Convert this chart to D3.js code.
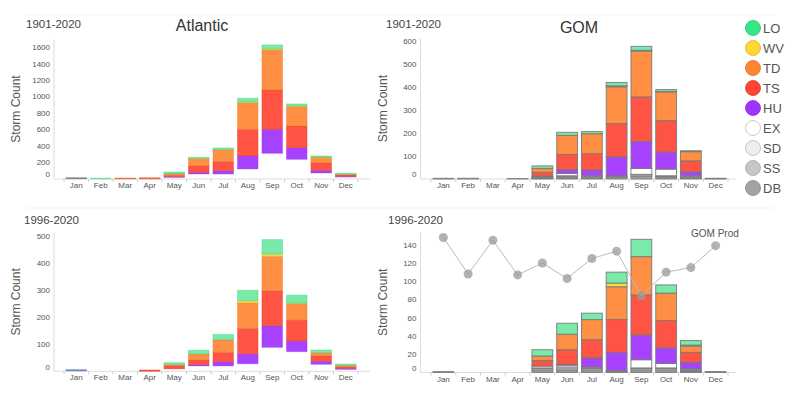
<!DOCTYPE html>
<html lang="en">
<head>
<meta charset="UTF-8">
<title>storms</title>
<script src="https://d3js.org/d3.v7.min.js"></script>
<style>
  body { margin: 0; background: #fff; }
  text { font-family: "Liberation Sans", Arial, sans-serif; fill: #555; }
</style>
</head>
<body>
<script>
// months + storm categories (stack order bottom -> top)
var months = ["Jan","Feb","Mar","Apr","May","Jun","Jul","Aug","Sep","Oct","Nov","Dec"];
var keys = ["DB","SS","SD","EX","HU","TS","TD","WV","LO"];
var legendKeys = ["LO","WV","TD","TS","HU","EX","SD","SS","DB"];
var colors = {LO:"#33e884", WV:"#ffd633", TD:"#ff8533", TS:"#ff4433", HU:"#a033ff",
              EX:"#ffffff", SD:"#eeeeee", SS:"#c6c6c6", DB:"#a3a3a3"};

// Atlantic 1901-2020, per month, in key order DB,SS,SD,EX,HU,TS,TD,WV,LO
var atl1901 = [
  [0,0,0,3,6,4,0,0,5],
  [0,0,0,0,0,0,0,0,10],
  [0,0,0,0,0,8,4,0,0],
  [0,0,0,0,0,10,6,0,0],
  [0,0,0,20,8,17,20,0,20],
  [0,0,0,61,20,77,89,4,12],
  [0,0,0,61,40,110,141,5,20],
  [0,0,0,122,157,324,324,8,45],
  [0,0,0,312,291,478,486,12,49],
  [0,0,0,239,142,263,235,6,26],
  [0,0,0,73,32,93,65,3,13],
  [0,0,0,24,8,17,8,0,12]
];
// GOM 1901-2020
var gom1901 = [
  [0,3,0,0,0,0,0,0,0],
  [3,0,0,0,0,0,0,0,0],
  [0,0,0,0,0,0,0,0,0],
  [0,2,0,0,0,0,0,0,0],
  [2,3,2,2,3,17,17,0,11],
  [5,5,4,10,16,67,83,0,13],
  [5,5,4,0,25,71,87,0,9],
  [6,5,3,0,82,145,160,4,15],
  [10,8,2,26,117,194,199,4,17],
  [6,5,3,29,74,137,125,2,8],
  [4,4,2,4,17,48,40,0,4],
  [2,0,0,0,0,1,0,0,0]
];
// Atlantic 1996-2020
var atl1996 = [
  [0,0,0,2,3,0,0,0,2],
  [0,0,0,0,0,0,0,0,0],
  [0,0,0,0,0,0,0,0,0],
  [0,0,0,0,0,5,0,0,0],
  [0,0,0,9,0,11,5,0,7],
  [0,0,0,20,5,17,22,0,14],
  [0,0,0,20,16,34,47,0,20],
  [0,0,0,28,37,94,95,8,39],
  [0,0,0,89,80,130,128,8,54],
  [0,0,0,73,39,78,61,2,30],
  [0,0,0,26,11,20,12,0,10],
  [0,0,0,7,4,6,5,0,5]
];
// GOM 1996-2020
var gom1996 = [
  [0,1,0,0,0,0,0,0,0],
  [0,0,0,0,0,0,0,0,0],
  [0,0,0,0,0,0,0,0,0],
  [0,0,0,0,0,0,0,0,0],
  [2,2,1,2,0,6,5,0,7],
  [2,2,2,2,1,16,17,0,12],
  [2,2,1,1,10,20,22,0,7],
  [1,1,0,0,20,36,36,4,12],
  [2,2,1,9,27,44,42,0,19],
  [2,2,1,5,17,30,30,0,9],
  [1,1,1,1,7,11,7,1,5],
  [0,0,0,0,0,1,0,0,0]
];
// GOM production line (1996-2020 panel)
var gomProd = [148,108,145,107,120,103,125,133,84,110,115,139];

var svg = d3.select("body").append("svg")
  .attr("width", 800).attr("height", 397);

// faint panel separators
[15, 208].forEach(function(y){
  svg.append("line").attr("x1",25).attr("x2",775).attr("y1",y).attr("y2",y)
    .attr("stroke","#f3f3f3").attr("stroke-width",1);
});

var panels = [
  {data: atl1901, max: 1700, y0: 179, y1: 39, ax: 54, xr: [64,358], xend: 370, ticks: d3.range(0,1601,200),
   period: "1901-2020", px: 26, py: 28, title: "Atlantic", tx: 202, ty: 31, gom: false},
  {data: gom1901, max: 612, y0: 179, y1: 38.3, ax: 420.5, xr: [431,728], xend: 736, ticks: d3.range(0,601,100),
   period: "1901-2020", px: 386, py: 28, title: "GOM", tx: 579, ty: 33, gom: true},
  {data: atl1996, max: 515, y0: 371.3, y1: 232.6, ax: 54, xr: [64,358], xend: 370, ticks: d3.range(0,501,100),
   period: "1996-2020", px: 24, py: 224, gom: false},
  {data: gom1996, max: 154, y0: 372.5, y1: 232, ax: 420.5, xr: [431,728], xend: 736, ticks: d3.range(0,141,20),
   period: "1996-2020", px: 388, py: 224, gom: true, prod: gomProd}
];

panels.forEach(function(p){
  var g = svg.append("g");
  var x = d3.scaleBand().domain(months).range(p.xr).paddingInner(0.16).paddingOuter(0.08);
  var y = d3.scaleLinear().domain([0, p.max]).range([p.y0, p.y1]);

  var rows = p.data.map(function(r, i){
    var o = {month: months[i]};
    keys.forEach(function(k, j){ o[k] = r[j]; });
    return o;
  });
  var series = d3.stack().keys(keys)(rows);

  // axes lines
  g.append("line").attr("x1", p.ax).attr("x2", p.ax).attr("y1", p.y1).attr("y2", p.y0)
    .attr("stroke","#ddd");
  g.append("line").attr("x1", p.ax).attr("x2", p.xend).attr("y1", p.y0).attr("y2", p.y0)
    .attr("stroke","#ddd");

  // boundary ticks between months
  d3.range(13).forEach(function(i){
    var bx = p.xr[0] + i * x.step();
    g.append("line").attr("x1", bx).attr("x2", bx).attr("y1", p.y0).attr("y2", p.y0 + 3)
      .attr("stroke","#ccc");
  });

  // bars
  series.forEach(function(s){
    var k = s.key;
    var hideBase = !p.gom && ["DB","SS","SD","EX"].indexOf(k) >= 0;
    g.append("g").selectAll("rect").data(s).enter().append("rect")
      .attr("x", function(d){ return x(d.data.month); })
      .attr("width", x.bandwidth())
      .attr("y", function(d){ return y(d[1]); })
      .attr("height", function(d){ return Math.max(0, y(d[0]) - y(d[1])); })
      .attr("fill", k == "LO" ? "#6ee8a2" : colors[k])
      .attr("fill-opacity", hideBase ? 0 : 0.92)
      .attr("stroke", hideBase ? "none" : (p.gom ? "#7a7a7a" : d3.color(colors[k]).darker(0.4)))
      .attr("stroke-opacity", p.gom ? 0.9 : 0.35)
      .attr("stroke-width", 1)
      .style("display", function(d){ return d[1] - d[0] > 0 ? null : "none"; });
  });

  // y tick labels
  g.selectAll(".yl").data(p.ticks).enter().append("text")
    .attr("x", p.ax - 4)
    .attr("y", function(d){ return y(d) + (d == 0 ? -4.5 : 0); })
    .attr("dy", "0.35em")
    .attr("text-anchor","end")
    .style("font-size","8px")
    .text(function(d){ return d; });

  // month labels
  g.selectAll(".xl").data(months).enter().append("text")
    .attr("x", function(d){ return x(d) + x.bandwidth()/2; })
    .attr("y", p.y0 + 9)
    .attr("text-anchor","middle")
    .style("font-size","8px")
    .text(function(d){ return d; });

  g.append("text")
    .attr("transform","translate(" + (p.ax - 34) + "," + ((p.y0 + p.y1)/2) + ") rotate(-90)")
    .attr("text-anchor","middle")
    .style("font-size","12px")
    .text("Storm Count");

  g.append("text").attr("x", p.px).attr("y", p.py)
    .style("font-size","11.5px").style("fill","#444").text(p.period);

  if (p.title) {
    g.append("text").attr("x", p.tx).attr("y", p.ty).attr("text-anchor","middle")
      .style("font-size","16px").style("fill","#333").text(p.title);
  }

  if (p.prod) {
    var line = d3.line()
      .x(function(d, i){ return x(months[i]) + x.bandwidth()/2; })
      .y(function(d){ return y(d); });
    g.append("path").datum(p.prod).attr("d", line)
      .attr("fill","none").attr("stroke","#bbb").attr("stroke-width",1);
    g.selectAll(".pt").data(p.prod).enter().append("circle")
      .attr("cx", function(d, i){ return x(months[i]) + x.bandwidth()/2; })
      .attr("cy", function(d){ return y(d); })
      .attr("r", 4.5)
      .attr("fill","#9a9a9a").attr("fill-opacity",0.75);
    g.append("text").attr("x", 691).attr("y", 237)
      .style("font-size","10px").text("GOM Prod");
  }
});

// legend
var leg = svg.append("g");
legendKeys.forEach(function(k, i){
  var cy = 28 + i * 20;
  leg.append("circle").attr("cx", 753).attr("cy", cy).attr("r", 7.5)
    .attr("fill", colors[k])
    .attr("stroke", k == "EX" || k == "SD" ? "#bbb" : d3.color(colors[k]).darker(0.5))
    .attr("stroke-width", 0.8);
  leg.append("text").attr("x", 763).attr("y", cy).attr("dy","0.36em")
    .style("font-size","13px").text(k);
});
</script>
</body>
</html>
